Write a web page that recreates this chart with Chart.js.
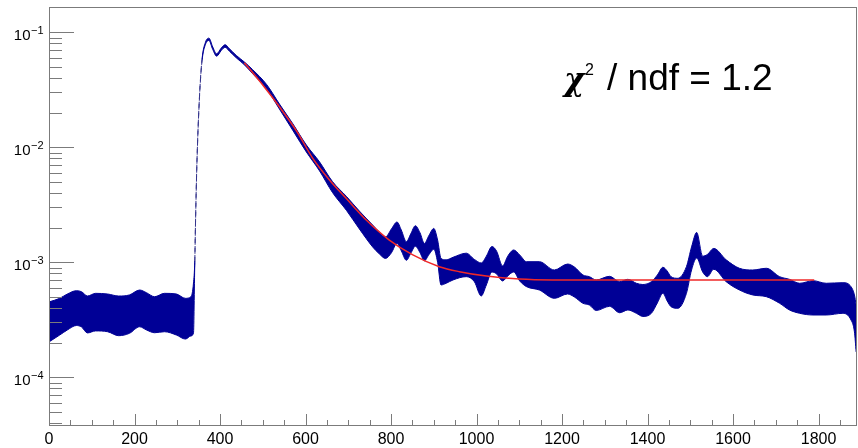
<!DOCTYPE html>
<html>
<head>
<meta charset="utf-8">
<title>Spectrum with fit</title>
<script src="https://cdn.jsdelivr.net/npm/chart.js@4.4.1/dist/chart.umd.min.js"></script>
<style>
	html, body { margin: 0; padding: 0; background: #fff; }
	#wrap { width: 858px; height: 448px; }
</style>
</head>
<body>
<div id="wrap"><canvas id="spectrum" width="858" height="448"></canvas></div>
<script>
// band of the measured spectrum: upper and lower edge on a shared x grid
const bandX = [
	0, 25, 43, 64, 76, 90, 109, 137, 163, 188,
	212, 228, 247, 270, 298, 319, 332, 338, 341, 343,
	346, 352, 358, 366, 374, 383, 392, 403, 412, 422,
	438, 457, 476, 509, 539, 570, 602, 633, 663, 696,
	726, 757, 773, 787, 801, 814, 824, 836, 846, 857,
	868, 878, 889, 900, 909, 917, 929, 945, 976, 995,
	1011, 1023, 1036, 1047, 1061, 1073, 1087, 1101, 1117, 1147,
	1182, 1213, 1229, 1249, 1264, 1280, 1311, 1335, 1354, 1374,
	1389, 1409, 1423, 1436, 1446, 1455, 1471, 1491, 1503, 1515,
	1529, 1540, 1555, 1584, 1615, 1646, 1678, 1709, 1732, 1756,
	1787, 1818, 1857, 1876, 1884, 1888,
];
const bandHigh = [
	4.52e-4, 4.86e-4, 5.30e-4, 5.66e-4, 5.55e-4, 5.09e-4, 5.37e-4, 5.30e-4, 5.09e-4, 5.20e-4,
	5.74e-4, 5.44e-4, 5.02e-4, 5.37e-4, 5.30e-4, 4.86e-4, 5.02e-4, 6.61e-4, 1.03e-3, 2.52e-3,
	7.4e-3, 2.78e-2, 5.85e-2, 8.2e-2, 8.9e-2, 7.45e-2, 6.5e-2, 7.3e-2, 7.8e-2, 7.2e-2,
	6.3e-2, 5.52e-2, 4.75e-2, 3.52e-2, 2.38e-2, 1.61e-2, 1.047e-2, 7.45e-3, 5.04e-3, 3.73e-3,
	2.79e-3, 2.11e-3, 1.83e-3, 1.66e-3, 1.95e-3, 2.24e-3, 1.91e-3, 1.51e-3, 1.76e-3, 2.08e-3,
	1.80e-3, 1.46e-3, 1.72e-3, 1.97e-3, 1.56e-3, 1.08e-3, 1.05e-3, 1.105e-3, 1.20e-3, 1.06e-3,
	9.86e-4, 1.13e-3, 1.37e-3, 1.25e-3, 9.29e-4, 1.13e-3, 1.28e-3, 1.16e-3, 1.012e-3, 1.012e-3,
	8.57e-4, 9.66e-4, 9.10e-4, 7.75e-4, 7.50e-4, 7.02e-4, 7.55e-4, 6.78e-4, 7.11e-4, 6.57e-4,
	6.41e-4, 6.78e-4, 7.75e-4, 9.05e-4, 8.40e-4, 7.50e-4, 7.26e-4, 9.16e-4, 1.36e-3, 1.82e-3,
	1.13e-3, 1.17e-3, 1.32e-3, 1.05e-3, 8.87e-4, 8.57e-4, 8.87e-4, 7.50e-4, 7.11e-4, 6.57e-4,
	6.92e-4, 6.57e-4, 6.65e-4, 6.14e-4, 5.20e-4, 4.25e-4,
];
const bandLow = [
	2.03e-4, 2.33e-4, 2.58e-4, 2.82e-4, 2.74e-4, 2.43e-4, 2.53e-4, 2.49e-4, 2.30e-4, 2.41e-4,
	2.75e-4, 2.58e-4, 2.44e-4, 2.49e-4, 2.33e-4, 2.15e-4, 2.29e-4, 2.43e-4, 0.99e-3, 2.46e-3,
	7.2e-3, 2.72e-2, 5.65e-2, 7.85e-2, 8.5e-2, 7.1e-2, 6.2e-2, 6.95e-2, 7.4e-2, 6.85e-2,
	6.0e-2, 5.22e-2, 4.38e-2, 3.21e-2, 2.15e-2, 1.41e-2, 9.10e-3, 6.22e-3, 4.05e-3, 2.82e-3,
	1.95e-3, 1.36e-3, 1.18e-3, 1.08e-3, 1.21e-3, 1.46e-3, 1.26e-3, 1.04e-3, 1.19e-3, 1.38e-3,
	1.21e-3, 1.03e-3, 1.17e-3, 1.30e-3, 1.0e-3, 6.35e-4, 6.57e-4, 7.02e-4, 7.50e-4, 6.78e-4,
	5.09e-4, 6.35e-4, 8.24e-4, 7.91e-4, 6.88e-4, 7.60e-4, 8.24e-4, 6.88e-4, 6.14e-4, 5.74e-4,
	4.86e-4, 5.30e-4, 4.99e-4, 4.40e-4, 4.25e-4, 3.81e-4, 4.14e-4, 3.64e-4, 3.85e-4, 3.60e-4,
	3.38e-4, 3.60e-4, 4.43e-4, 5.37e-4, 4.61e-4, 4.11e-4, 3.98e-4, 5.37e-4, 8.57e-4, 1.09e-3,
	8.24e-4, 7.50e-4, 8.69e-4, 6.78e-4, 5.74e-4, 5.20e-4, 5.02e-4, 4.40e-4, 3.85e-4, 3.60e-4,
	3.48e-4, 3.48e-4, 3.60e-4, 3.15e-4, 2.48e-4, 1.66e-4,
];

// fitted curve: falling tail onto a flat background
const fitX = [457, 500, 539, 580, 617, 656, 695, 742, 796, 851, 913, 960, 1023, 1100, 1178, 1300, 1500, 1790];
const fitY = [
	5.44e-2, 3.48e-2, 2.25e-2, 1.37e-2, 8.02e-3, 5.20e-3, 3.60e-3, 2.33e-3, 1.56e-3,
	1.16e-3, 9.16e-4, 8.29e-4, 7.60e-4, 7.16e-4, 7.02e-4, 7.0e-4, 7.0e-4, 7.0e-4,
];

// axis labels
const xTickValues = [0, 200, 400, 600, 800, 1000, 1200, 1400, 1600, 1800];
const yTickValues = [1e-1, 1e-2, 1e-3, 1e-4];
const yTickExponents = ["\u22121", "\u22122", "\u22123", "\u22124"];

const chiSymbol = "\u03c7";
const chiPower = "2";
const chiText = "/ ndf = 1.2";

const bandColor = "#000096";
const edgeColor = "#34348c";
const fitColor = "#f02828";
const axisColor = "#7b7b7b";
const sans = '"Liberation Sans", Arial, Helvetica, sans-serif';

const toPoints = (xs, ys) => xs.map((x, i) => ({ x: x, y: ys[i] }));

// the steep rising edge is drawn as a thin dashed line
const onRise = (ctx) => ctx.p0.parsed.x >= 341 && ctx.p1.parsed.x <= 358;
const riseSegment = {
	borderDash: (ctx) => (onRise(ctx) ? [6, 3] : undefined),
	borderColor: (ctx) => (onRise(ctx) ? edgeColor : undefined),
};

// ROOT-style frame: inward ticks, decade labels with exponents, fit box text
const rootAxes = {
	id: "rootAxes",
	afterDatasetsDraw(chart) {
		const { ctx, chartArea: area, scales } = chart;
		const xs = scales.x;
		const ys = scales.y;
		ctx.save();
		ctx.strokeStyle = axisColor;
		ctx.lineWidth = 1;
		ctx.beginPath();
		for (let v = 0; v <= xs.max; v += 50) {
			const px = Math.round(xs.getPixelForValue(v)) + 0.5;
			const len = v % 200 === 0 ? 12 : 6;
			ctx.moveTo(px, area.bottom);
			ctx.lineTo(px, area.bottom - len);
		}
		for (let e = -5; e <= -1; e++) {
			for (let m = 1; m <= 9; m++) {
				const v = m * Math.pow(10, e);
				if (v < ys.min || v > ys.max) continue;
				const py = Math.round(ys.getPixelForValue(v)) + 0.5;
				ctx.moveTo(area.left, py);
				ctx.lineTo(area.left + (m === 1 ? 25 : 13), py);
			}
		}
		ctx.stroke();
		ctx.strokeRect(area.left + 0.5, area.top + 0.5, area.right - area.left - 1, area.bottom - area.top - 1);

		ctx.fillStyle = "#000";
		ctx.textBaseline = "alphabetic";
		ctx.font = "16px " + sans;
		ctx.textAlign = "center";
		xTickValues.forEach((v) => {
			ctx.fillText(String(v), xs.getPixelForValue(v), 444);
		});

		yTickValues.forEach((v, i) => {
			const py = ys.getPixelForValue(v);
			ctx.font = "15px " + sans;
			ctx.textAlign = "right";
			ctx.fillText("10", 30.5, py + 8);
			ctx.font = "11px " + sans;
			ctx.textAlign = "left";
			ctx.fillText(yTickExponents[i], 31, py + 1.5);
		});

		ctx.textAlign = "left";
		ctx.font = 'italic bold 31px "DejaVu Serif", serif';
		ctx.fillText(chiSymbol, 564, 90);
		ctx.font = "16px " + sans;
		ctx.fillText(chiPower, 585, 75);
		ctx.font = "37px " + sans;
		ctx.fillText(chiText, 607, 90);
		ctx.restore();
	},
};

new Chart(document.getElementById("spectrum"), {
	type: "line",
	data: {
		datasets: [
			{
				label: "upper",
				data: toPoints(bandX, bandHigh),
				borderColor: bandColor,
				backgroundColor: bandColor,
				borderWidth: 1,
				fill: "+1",
				cubicInterpolationMode: "monotone",
				segment: riseSegment,
				order: 2,
			},
			{
				label: "lower",
				data: toPoints(bandX, bandLow),
				borderColor: bandColor,
				backgroundColor: bandColor,
				borderWidth: 1,
				fill: false,
				cubicInterpolationMode: "monotone",
				segment: riseSegment,
				order: 2,
			},
			{
				label: "fit",
				data: toPoints(fitX, fitY),
				borderColor: fitColor,
				borderWidth: 1.5,
				fill: false,
				cubicInterpolationMode: "monotone",
				order: 0,
			},
		],
	},
	options: {
		responsive: false,
		animation: false,
		devicePixelRatio: 1,
		layout: { padding: { left: 49, right: 1, top: 7, bottom: 22 } },
		elements: { point: { radius: 0 } },
		plugins: {
			legend: { display: false },
			tooltip: { enabled: false },
		},
		scales: {
			x: { type: "linear", min: 0, max: 1890, display: false },
			y: { type: "logarithmic", min: 3.77e-5, max: 0.166, display: false },
		},
	},
	plugins: [rootAxes],
});
</script>
</body>
</html>
